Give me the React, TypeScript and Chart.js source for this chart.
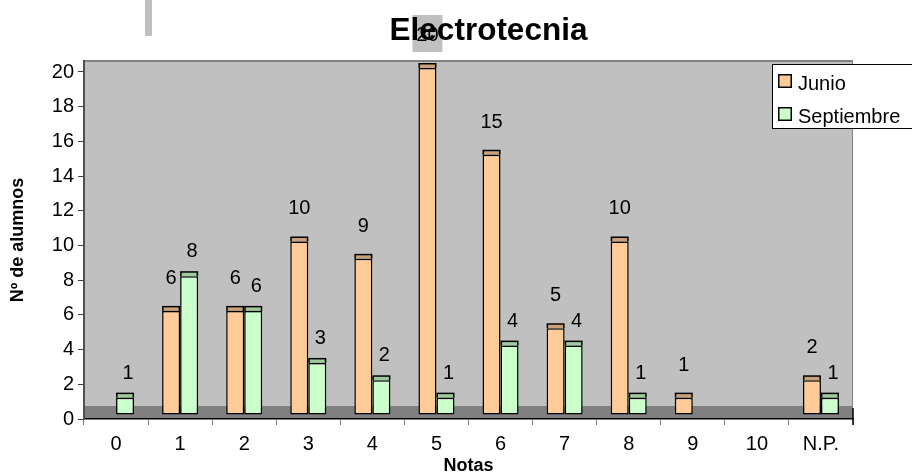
import React, { useEffect, useRef } from 'react';
import { Chart, registerables } from 'chart.js';

Chart.register(...registerables);

const categories = ['0', '1', '2', '3', '4', '5', '6', '7', '8', '9', '10', 'N.P.'];
const seriesNames = ['Junio', 'Septiembre'];
const junio = [0, 6, 6, 10, 9, 20, 15, 5, 10, 1, 0, 2];
const septiembre = [1, 8, 6, 3, 2, 1, 4, 4, 1, 0, 0, 1];
const yTicks = [0, 2, 4, 6, 8, 10, 12, 14, 16, 18, 20];
const titleText = 'Electrotecnia';
const xTitle = 'Notas';
const yTitle = 'Nº de alumnos';

const faceColors = ['#FFCC99', '#CCFFCC'];
const capColors = ['#C9A27B', '#9FC89F'];
const labelLift = [27, 19];
const labelShift = [0, 3];
const FONT = '"Liberation Sans", Arial, sans-serif';

const DEPTH = 4;

const excelPlugin = {
  id: 'excel3d',
  beforeDraw(chart: any) {
    const { ctx, chartArea: a, width, height } = chart;
    ctx.save();
    ctx.fillStyle = '#ffffff';
    ctx.fillRect(0, 0, width, height);
    // plot area
    ctx.fillStyle = '#c0c0c0';
    ctx.fillRect(a.left, a.top, a.right - a.left, a.bottom - a.top);
    // floor
    ctx.fillStyle = '#808080';
    ctx.fillRect(a.left, a.bottom - 13, a.right - a.left, 13);
    // top border
    ctx.strokeStyle = '#808080';
    ctx.lineWidth = 2;
    ctx.beginPath();
    ctx.moveTo(a.left, a.top);
    ctx.lineTo(a.right, a.top);
    ctx.stroke();
    // right border
    ctx.lineWidth = 1;
    ctx.beginPath();
    ctx.moveTo(a.right - 0.5, a.top);
    ctx.lineTo(a.right - 0.5, a.bottom - 13);
    ctx.stroke();
    // decorative grey bar at top-left
    ctx.fillStyle = '#c0c0c0';
    ctx.fillRect(145, 0, 7, 36);
    ctx.restore();
  },
  beforeDatasetsDraw(chart: any) {
    const { ctx } = chart;
    const items: { x: number; y: number; t: string }[] = [];
    chart.data.datasets.forEach((ds: any, di: number) => {
      const meta = chart.getDatasetMeta(di);
      meta.data.forEach((bar: any, i: number) => {
        const v = ds.data[i];
        if (v == null) return;
        const p = bar.getProps(['x', 'y'], true);
        items.push({ x: p.x + labelShift[di], y: p.y - DEPTH - labelLift[di], t: String(v) });
      });
    });
    ctx.save();
    ctx.fillStyle = '#c0c0c0';
    items.forEach((it) => ctx.fillRect(it.x - 15, it.y - 26, 30, 37));
    ctx.fillStyle = '#000';
    ctx.font = `20px ${FONT}`;
    ctx.textAlign = 'center';
    ctx.textBaseline = 'alphabetic';
    items.forEach((it) => ctx.fillText(it.t, it.x, it.y));
    ctx.restore();
    ctx.save();
    ctx.translate(0, -DEPTH);
  },
  afterDatasetsDraw(chart: any) {
    const { ctx } = chart;
    chart.data.datasets.forEach((ds: any, di: number) => {
      const meta = chart.getDatasetMeta(di);
      meta.data.forEach((bar: any, i: number) => {
        if (ds.data[i] == null) return;
        const p = bar.getProps(['x', 'y', 'width'], true);
        const l = p.x - p.width / 2;
        ctx.fillStyle = '#000';
        ctx.fillRect(l, p.y - 5, p.width, 5);
        ctx.fillStyle = capColors[di];
        ctx.fillRect(l + 1.5, p.y - 3.5, p.width - 3, 3.5);
      });
    });
    ctx.restore();
  },
  afterDraw(chart: any) {
    const { ctx, chartArea: a } = chart;
    ctx.save();
    // right edge black line at floor
    ctx.strokeStyle = '#000';
    ctx.lineWidth = 1.5;
    ctx.beginPath();
    ctx.moveTo(a.right, a.bottom - 11);
    ctx.lineTo(a.right, a.bottom + 6);
    ctx.stroke();
    // title
    ctx.fillStyle = '#000';
    ctx.font = `bold 31.5px ${FONT}`;
    ctx.textAlign = 'center';
    ctx.textBaseline = 'alphabetic';
    ctx.fillText(titleText, 488.5, 40);
    // legend
    ctx.fillStyle = '#fff';
    ctx.fillRect(772, 64, 160, 65);
    ctx.strokeStyle = '#000';
    ctx.lineWidth = 1;
    ctx.strokeRect(772.5, 64.5, 160, 64);
    seriesNames.forEach((name, i) => {
      const sy = 74 + i * 33;
      ctx.fillStyle = '#000';
      ctx.fillRect(778, sy, 14, 14);
      ctx.fillStyle = faceColors[i];
      ctx.fillRect(779.5, sy + 1.5, 11, 11);
      ctx.fillStyle = '#000';
      ctx.font = `20px ${FONT}`;
      ctx.textAlign = 'left';
      ctx.fillText(name, 798, sy + 15.5);
    });
    ctx.restore();
  },
};

export default function App() {
  const ref = useRef<HTMLCanvasElement>(null);
  useEffect(() => {
    const toNull = (arr: number[]) => arr.map((v) => (v === 0 ? null : v));
    const chart = new Chart(ref.current as HTMLCanvasElement, {
      type: 'bar',
      data: {
        labels: categories,
        datasets: [
          {
            label: seriesNames[0],
            data: toNull(junio),
            backgroundColor: faceColors[0],
            borderColor: '#000',
            borderWidth: 1.5,
            borderSkipped: false,
            categoryPercentage: 0.5625,
            barPercentage: 1,
          },
          {
            label: seriesNames[1],
            data: toNull(septiembre),
            backgroundColor: faceColors[1],
            borderColor: '#000',
            borderWidth: 1.5,
            borderSkipped: false,
            categoryPercentage: 0.5625,
            barPercentage: 1,
          },
        ],
      },
      options: {
        responsive: false,
        animation: false,
        layout: { padding: { top: 61, right: 59, left: 0, bottom: 0 } },
        plugins: {
          legend: { display: false },
          title: { display: false },
          tooltip: { enabled: false },
        },
        scales: {
          x: {
            afterFit: (s: any) => {
              s.height = 56;
            },
            grid: { drawOnChartArea: false, drawTicks: true, tickLength: 6, color: '#808080', offset: true },
            border: { color: '#000', width: 1.5 },
            ticks: { color: '#000', padding: 7, font: { family: FONT, size: 20 } },
            title: {
              display: true,
              text: xTitle,
              color: '#000',
              font: { family: FONT, size: 18, weight: 'bold', lineHeight: 1 },
              padding: { top: 0, bottom: 0 },
            },
          },
          y: {
            min: 0,
            max: 20.634,
            afterFit: (s: any) => {
              s.width = 84;
            },
            afterBuildTicks: (s: any) => {
              s.ticks = yTicks.map((v) => ({ value: v }));
            },
            grid: { drawOnChartArea: false, drawTicks: true, tickLength: 6, color: '#404040' },
            border: { color: '#505050', width: 2 },
            ticks: { color: '#000', padding: 4, font: { family: FONT, size: 20 } },
            title: {
              display: true,
              text: yTitle,
              color: '#000',
              font: { family: FONT, size: 18, weight: 'bold', lineHeight: 1 },
              padding: { top: 9, bottom: 0 },
            },
          },
        },
      },
      plugins: [excelPlugin],
    } as any);
    return () => chart.destroy();
  }, []);
  return (
    <div style={{ position: 'fixed', left: 0, top: 0, width: 912, height: 475, background: '#fff' }}>
      <canvas ref={ref} width={912} height={475} style={{ display: 'block' }} />
    </div>
  );
}
